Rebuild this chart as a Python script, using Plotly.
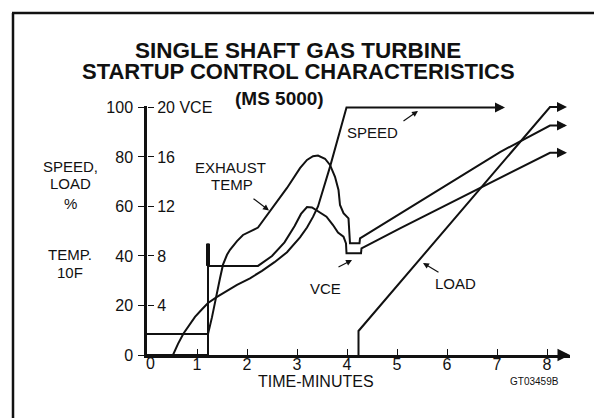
import plotly.graph_objects as go

# ---------------- data ----------------
speed_t = [0.52, 0.62, 0.73, 0.85, 0.96, 1.1, 1.22, 1.4, 1.59, 1.8, 2.06, 2.3, 2.55, 2.8, 3.06, 3.2, 3.32, 3.42, 3.66, 3.99, 7.0]
speed_v = [0, 4.5, 8.7, 12.3, 15.4, 18.5, 21, 23.5, 25.8, 28.3, 31, 34, 37.5, 41.5, 47.5, 51.5, 55.8, 60, 76, 100, 100]

exh_t = [0, 1.22, 1.3, 1.4, 1.46, 1.52, 1.6, 1.66, 1.8, 1.92, 2.12, 2.22, 2.8, 3.06, 3.2, 3.32, 3.42,
         3.56, 3.66, 3.76, 3.83, 3.86, 3.93, 4.03, 4.06, 4.25, 4.26, 7.06, 8.06, 8.25]
exh_v = [8.5, 8.5, 15.3, 26, 31, 36.5, 40.5, 42.5, 46, 48.5, 50.4, 51.5, 67.5, 75.5, 78.8, 80.3, 80.6,
         79.3, 76.8, 72, 66.7, 60.6, 57.3, 55.2, 45.1, 45.1, 47.1, 82, 92.7, 92.7]

vce_t = [0, 1.22, 1.22, 1.22, 2.22, 2.5, 2.75, 2.95, 3.08, 3.2, 3.3, 3.45, 3.59, 3.72, 3.82, 3.93,
         3.98, 3.99, 4.28, 4.29, 5.06, 8.06, 8.25]
vce_v = [0, 0, 45, 36, 36, 40, 45.5, 52, 57, 59.8, 59.6, 57.8, 55.9, 52.5, 49.5, 47.8,
         45.1, 41.1, 41.1, 43.1, 51.2, 81.7, 81.7]

load_t = [4.23, 4.23, 8.06, 8.25]
load_v = [0, 9.7, 100.2, 100.2]

x_ticks = [0, 1, 2, 3, 4, 5, 6, 7, 8]
y_ticks = [0, 20, 40, 60, 80, 100]
vce_ticks = [4, 8, 12, 16, 20]
vce_ticktext = ["4", "8", "12", "16", "20 VCE"]

speed_arrow_tip = 7.16
series_arrow_tip = 8.4
x_axis_tip = 8.46

# ---------------- layout geometry ----------------
W, H = 594, 418
L, R, T, B = 147, 24, 106, 63
XMAX, YMAX = x_axis_tip, 100.6
FONT = "Liberation Sans, Arial, sans-serif"
INK = "#111111"

fig = go.Figure()

line_style = dict(color=INK, width=2)
for tx, vy, nm in [(speed_t, speed_v, "Speed"), (exh_t, exh_v, "Exhaust temp"),
                   (vce_t, vce_v, "VCE"), (load_t, load_v, "Load")]:
    fig.add_trace(go.Scatter(x=tx, y=vy, mode="lines", name=nm, line=line_style,
                             cliponaxis=False, showlegend=False, hoverinfo="skip"))

# thick hatched spike of VCE at light-off
fig.add_trace(go.Scatter(x=vce_t[2:4], y=vce_v[2:4], mode="lines", line=dict(color=INK, width=4),
                         cliponaxis=False, showlegend=False, hoverinfo="skip"))

# dummy trace for the VCE axis
fig.add_trace(go.Scatter(x=[None], y=[None], yaxis="y2", showlegend=False))

fig.update_layout(
    width=W, height=H,
    margin=dict(l=L, r=R, t=T, b=B, pad=0),
    paper_bgcolor="white", plot_bgcolor="white",
    font=dict(family=FONT, color=INK, size=15),
    xaxis=dict(range=[0, XMAX], showgrid=False, zeroline=False,
               showline=True, linecolor=INK, linewidth=2.5,
               ticks="inside", ticklen=6, tickwidth=1.2, tickcolor=INK,
               tickvals=x_ticks[1:], ticktext=[str(v) for v in x_ticks[1:]],
               tickfont=dict(size=16, family=FONT), ticklabelstandoff=-7),
    yaxis=dict(range=[0, YMAX], showgrid=False, zeroline=False,
               showline=True, linecolor=INK, linewidth=2.5,
               ticks="outside", ticklen=6, tickwidth=1.2, tickcolor=INK,
               tickvals=y_ticks, ticktext=[str(v) for v in y_ticks],
               tickfont=dict(size=16, family=FONT), ticklabelstandoff=2),
    yaxis2=dict(range=[0, YMAX / 5], overlaying="y", side="right", anchor="free", position=0,
                showgrid=False, zeroline=False, showline=False,
                ticks="outside", ticklen=6, tickwidth=1.2, tickcolor=INK,
                tickvals=vce_ticks, ticktext=vce_ticktext, ticklabelstandoff=0,
                tickfont=dict(size=16, family=FONT)),
)

def ann(text, x, y, size=15, bold=False, **kw):
    # positions given in data units, placed through paper coordinates so that
    # labels outside the plotting area are still drawn
    fig.add_annotation(text=("<b>%s</b>" % text) if bold else text, x=x / XMAX, y=y / YMAX,
                       xref="paper", yref="paper", xanchor="center", yanchor="middle",
                       showarrow=False, font=dict(family=FONT, size=size, color=INK), **kw)

def arrow(x, y, ax, ay, width=1.5, head=2, size=1.0):
    fig.add_annotation(x=x, y=y, ax=ax, ay=ay, xref="x", yref="y", axref="x", ayref="y",
                       text="", showarrow=True, arrowhead=head, arrowsize=size,
                       arrowwidth=width, arrowcolor=INK)

# titles
ann("SINGLE SHAFT GAS TURBINE", 3.02, 123.0, size=22.5, bold=True)
ann("STARTUP CONTROL CHARACTERISTICS", 3.02, 114.6, size=22, bold=True)
ann("(MS 5000)", 2.64, 103.6, size=19, bold=True)

# left-side axis titles
ann("SPEED,", -1.54, 76, size=15)
ann("LOAD", -1.54, 69.1, size=15)
ann("%", -1.54, 61.4, size=15)
ann("TEMP.", -1.54, 40.8, size=15)
ann("10F", -1.54, 33.3, size=15)

# x origin label, x title and figure code
ann("0", 0.06, -3.6, size=16)
ann("TIME-MINUTES", 3.38, -10.8, size=16)
ann("GT03459B", 7.74, -10.9, size=10)

# curve labels + pointer arrows
ann("SPEED", 4.52, 89.7, size=15)
arrow(5.42, 98.6, 5.1, 94.1, width=1.2)
ann("EXHAUST", 1.66, 75.6, size=15)
ann("TEMP", 1.7, 68.7, size=15)
arrow(2.44, 58.4, 2.1, 63.6, width=1.2)
ann("VCE", 3.56, 27, size=15)
arrow(4.1, 38.4, 3.8, 35.2, width=1.2)
ann("LOAD", 6.16, 28.7, size=15)
arrow(5.52, 37.2, 5.86, 33.1, width=1.2)

# series end arrows
arrow(speed_arrow_tip, speed_v[-1], speed_t[-1], speed_v[-1], width=2)
arrow(series_arrow_tip, exh_v[-1], exh_t[-1], exh_v[-1], width=2)
arrow(series_arrow_tip, vce_v[-1], vce_t[-1], vce_v[-1], width=2)
arrow(series_arrow_tip, load_v[-1], load_t[-1], load_v[-1], width=2)
arrow(x_axis_tip, 0, x_axis_tip - 0.2, 0, width=2.5)

# page frame (left and top edges)
def px(xp):
    return (xp - L) / (W - L - R)

def py(yp):
    return (H - B - yp) / (H - T - B)

fig.add_shape(type="line", xref="paper", yref="paper", x0=px(13), x1=px(13), y0=py(13), y1=py(420),
              line=dict(color=INK, width=2.5))
fig.add_shape(type="line", xref="paper", yref="paper", x0=px(12), x1=px(596), y0=py(13), y1=py(13),
              line=dict(color=INK, width=2.5))

fig.write_html("out.html", config={"displayModeBar": False},
               post_script="document.body.style.margin='0px';")
